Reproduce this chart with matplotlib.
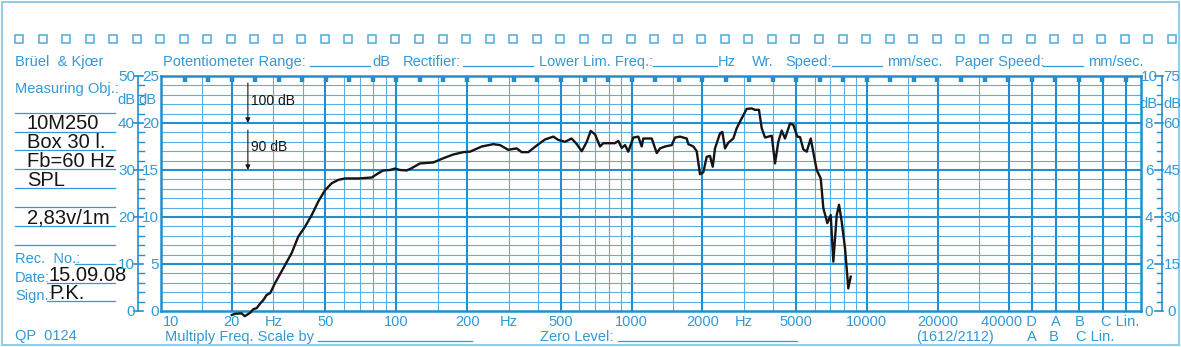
import matplotlib
matplotlib.use('Agg')
import matplotlib.pyplot as plt
import matplotlib.transforms as mtransforms
from matplotlib.patches import Rectangle

# ---------------- data ----------------
freq_hz = [20, 20.6, 22.0, 22.7, 23.9, 24.7, 25.5, 26.4, 27.2, 28.1,
           29.1, 30.5, 33.1, 35.9, 38.3, 40.9, 43.7, 46.6, 49.8, 53.2,
           56.7, 60.5, 69, 78.6, 83.8, 88.1, 94, 98.7, 103.7, 110.7,
           116.3, 126.1, 143.6, 158.4, 174.7, 192.7, 205.7, 230.7, 258.4, 276,
           299, 325, 341, 364, 395, 428.5, 465, 488, 521, 556,
           585, 614, 645, 670, 699, 734, 758, 850, 878, 908,
           938, 968, 1017, 1068, 1104, 1121, 1218, 1279, 1321, 1387,
           1481, 1529, 1606, 1715, 1742, 1830, 1891, 1953, 2017, 2085,
           2154, 2212, 2262, 2376, 2430, 2495, 2576, 2706, 2797, 2938,
           3084, 3239, 3345, 3478, 3573, 3690, 3940, 4070, 4203, 4345,
           4487, 4713, 4868, 5063, 5198, 5368, 5549, 5771, 6118, 6366,
           6530, 6790, 7019, 7201, 7443, 7613, 7816, 8075, 8337, 8535]
spl_db = [59.15, 59.4, 59.5, 58.9, 59.6, 60.4, 60.6, 61.6, 62.3, 63.4,
          63.8, 65.9, 69.1, 72.3, 75.8, 77.9, 80.4, 83.3, 85.7, 87.2,
          87.9, 88.2, 88.2, 88.4, 89.3, 89.9, 90.0, 90.3, 90.0, 89.9,
          90.4, 91.4, 91.6, 92.5, 93.3, 93.8, 93.9, 95.0, 95.5, 95.3,
          94.3, 94.6, 93.8, 93.8, 95.2, 96.5, 97.1, 96.4, 96.0, 96.7,
          95.5, 94.0, 96.0, 98.3, 97.6, 95.0, 95.7, 95.7, 96.2, 94.7,
          95.3, 93.9, 96.9, 97.1, 95.0, 96.7, 96.7, 93.6, 94.6, 95.0,
          95.3, 96.9, 97.1, 96.7, 95.5, 95.0, 94.0, 89.1, 89.5, 92.8,
          93.0, 90.7, 94.6, 97.8, 98.1, 94.6, 95.8, 96.7, 98.9, 101.0,
          103.0, 103.1, 102.8, 102.8, 98.9, 96.9, 97.3, 91.4, 96.0, 98.4,
          96.7, 99.9, 99.6, 97.1, 97.0, 94.4, 93.9, 96.7, 90.0, 88.2,
          81.9, 78.7, 80.4, 70.5, 80.4, 82.6, 79.0, 73.3, 64.8, 67.3]

xtick_freqs = [10, 20, 50, 100, 200, 500, 1000, 2000, 5000, 10000, 20000]
xtick_labels = ['10', '20', '50', '100', '200', '500', '1000', '2000', '5000', '10000', '20000']
hz_label_freqs = [30, 300, 3000]
db_major = [60, 70, 80, 90, 100, 110]
left_outer_labels = ['0', '10', '20', '30', '40', '50']
left_inner_labels = ['0', '5', '10', '15', '20', '25']
right_inner_labels = ['0', '2', '4', '6', '8', '10']
right_outer_labels = ['0', '15', '30', '45', '60', '75']
meas_lines = ['10M250', 'Box 30 l.', 'Fb=60 Hz', 'SPL', '', '2,83v/1m']

# ---------------- style ----------------
THICK = '#1f8fd3'
THIN = '#5aafe2'
TXT = '#3299d6'
PALE = '#92cdea'
INK = '#151515'
FONT = 'Liberation Sans'

W, H = 1181, 347
fig = plt.figure(figsize=(W / 100, H / 100), dpi=100)
fig.patch.set_facecolor('white')

ov = fig.add_axes([0, 0, 1, 1], zorder=0)
ov.set_xlim(0, W)
ov.set_ylim(H, 0)
ov.axis('off')

ax = fig.add_axes([161 / W, (H - 311) / H, 980 / W, 235 / H], zorder=2)
ax.set_facecolor('none')
ax.set_xscale('log')
F_RIGHT = 146200
ax.set_xlim(10, F_RIGHT)
ax.set_ylim(60, 110)
ax.set_xticks([])
ax.set_yticks([])
ax.minorticks_off()
for sp in ax.spines.values():
    sp.set_color(THICK)
    sp.set_linewidth(1.8)


def T(x, y, s, ha='left', color=TXT, size=10.5, tr=None, **kw):
    ov.text(x, y, s, ha=ha, va='baseline', color=color, fontsize=size,
            family=FONT, transform=tr if tr is not None else ov.transData, **kw)


# ---------------- outer frame and sprocket holes ----------------
ov.add_patch(Rectangle((1.5, 1.5), 1177.5, 343.5, fill=False, ec=PALE, lw=1.5))
for k in range(50):
    cx = 19 + 23.53 * k
    ov.add_patch(Rectangle((cx - 4, 35), 8, 8, fill=False, ec='#4fa9dc', lw=1.1))

# ---------------- header ----------------
T(15, 66, 'Brüel  & Kjœr')
T(163, 66, 'Potentiometer Range:')
ov.plot([310, 370], [66, 66], color=TXT, lw=0.9)
T(372, 66, 'dB')
T(403, 66, 'Rectifier:')
ov.plot([463, 533], [66, 66], color=TXT, lw=0.9)
T(539, 66, 'Lower Lim. Freq.:')
ov.plot([653, 717], [66, 66], color=TXT, lw=0.9)
T(718, 66, 'Hz')
T(752, 66, 'Wr.')
T(785, 66, 'Speed:')
ov.plot([832, 882], [66, 66], color=TXT, lw=0.9)
T(887, 66, 'mm/sec.')
T(955, 66, 'Paper Speed:')
ov.plot([1043, 1083], [66, 66], color=TXT, lw=0.9)
T(1088, 66, 'mm/sec.')

# ---------------- left info panel ----------------
T(15, 93, 'Measuring Obj.:')
panel_lines = [113.3, 131.7, 150, 169.3, 188.3, 206.7, 226, 245]
for yl in panel_lines:
    ov.plot([15, 115], [yl, yl], color=TXT, lw=0.9)
for i, s in enumerate(meas_lines):
    if s:
        T(27, panel_lines[i + 1] - 2.5, s, color=INK, size=14.5)
T(15, 263, 'Rec.  No.:')
ov.plot([75, 115], [263.5, 263.5], color=TXT, lw=0.9)
T(15, 282, 'Date:')
ov.plot([47, 115], [282.5, 282.5], color=TXT, lw=0.9)
T(49, 281, '15.09.08', color=INK, size=14.5)
T(15, 300, 'Sign.:')
ov.plot([47, 115], [300.5, 300.5], color=TXT, lw=0.9)
T(49, 299, 'P.K.', color=INK, size=14.5)
T(15, 340, 'QP  0124')

# ---------------- grid ----------------
grid_mult = [1, 1.5, 2, 3, 4, 5, 6, 7, 8, 9]
thick_f, thin_f = [], []
for d in [10, 100, 1000, 10000]:
    for m in grid_mult:
        f = d * m
        if f > 40000:
            break
        if f == 10:
            continue
        (thick_f if m in (1, 2, 5) or f == 40000 else thin_f).append(f)
col_f = [40000 * 10 ** (k / 10) for k in range(1, 6)]
thick_f += col_f

for v in range(62, 110, 2):
    if v % 10:
        ax.axhline(v, color=THIN, lw=0.8, zorder=1)
for v in db_major[1:-1]:
    ax.axhline(v, color=THICK, lw=1.5, zorder=2)
for f in thin_f:
    ax.axvline(f, color=THIN, lw=0.8, zorder=1)
for f in thick_f:
    ax.axvline(f, color=THICK, lw=1.5, zorder=2)

# top markers every 1/10 decade
mark_f = [10 * 10 ** (k / 10) for k in range(1, 42)]
ax.vlines(mark_f, 0.975, 1.0, transform=ax.get_xaxis_transform(),
          color=THICK, lw=3.2, zorder=3)

# ---------------- response curve ----------------
ax.plot(freq_hz, spl_db, color=INK, lw=1.7, zorder=5, clip_on=False,
        solid_joinstyle='round')

# level annotations
ax.annotate('', xy=(23.4, 100), xytext=(23.4, 108.5),
            arrowprops=dict(arrowstyle='-|>', color=INK, lw=0.8,
                            mutation_scale=7, shrinkA=0, shrinkB=0), zorder=6)
ax.annotate('', xy=(23.4, 90), xytext=(23.4, 98.5),
            arrowprops=dict(arrowstyle='-|>', color=INK, lw=0.8,
                            mutation_scale=7, shrinkA=0, shrinkB=0), zorder=6)
ax.text(24.1, 103.8, '100 dB', color=INK, fontsize=10, family=FONT,
        va='baseline', ha='left', zorder=6)
ax.text(24.1, 94.0, '90 dB', color=INK, fontsize=10, family=FONT,
        va='baseline', ha='left', zorder=6)

# ---------------- side scales ----------------
bt = mtransforms.blended_transform_factory(ov.transData, ax.transData)
ov.plot([138, 138], [60, 110], transform=bt, color=THICK, lw=1.2)
ov.plot([1162, 1162], [60, 110], transform=bt, color=THICK, lw=1.2)
for v in range(60, 111, 2):
    if v % 10:
        ov.plot([138, 144], [v, v], transform=bt, color=THICK, lw=1.0)
        ov.plot([1157, 1162], [v, v], transform=bt, color=THICK, lw=1.0)
    else:
        ov.plot([134, 143], [v, v], transform=bt, color=THICK, lw=1.2)
        ov.plot([1155, 1163], [v, v], transform=bt, color=THICK, lw=1.2)

off = mtransforms.ScaledTranslation(0, -5.0 / 100, fig.dpi_scale_trans)
for v, a, b, c, d in zip(db_major, left_outer_labels, left_inner_labels,
                         right_inner_labels, right_outer_labels):
    T(135, v, a, ha='right', size=11, tr=bt + off)
    T(159, v, b, ha='right', size=11, tr=bt + off)
    T(1149, v, c, ha='center', size=11, tr=bt + off)
    T(1172, v, d, ha='center', size=11, tr=bt + off)
T(117, 103.5, 'dB', size=10.5)
T(138, 103.5, 'dB', size=10.5)
T(1139, 108, 'dB', size=10.5)
T(1163, 108, 'dB', size=10.5)

# ---------------- bottom labels ----------------
bb = mtransforms.blended_transform_factory(ax.transData, ov.transData)
for f, s in zip(xtick_freqs, xtick_labels):
    T(f * (1.02 if f == 10 else 1.0), 326, s, ha='left' if f == 10 else 'center', tr=bb)
for f in hz_label_freqs:
    T(f, 326, 'Hz', ha='center', tr=bb)
T(40000, 326, '40000 D', ha='center', tr=bb)
T(col_f[1], 326, 'A', ha='center', tr=bb)
T(col_f[2], 326, 'B', ha='center', tr=bb)
T(col_f[3] * 0.985, 326, 'C Lin.', ha='left', tr=bb)
T(col_f[0], 341, 'A', ha='center', tr=bb)
T(col_f[1] * 0.985, 341, 'B', ha='center', tr=bb)
T(col_f[2] * 0.97, 341, 'C Lin.', ha='left', tr=bb)
T(916, 341, '(1612/2112)')
T(165, 341, 'Multiply Freq. Scale by')
ov.plot([318, 472], [340.5, 340.5], color=TXT, lw=0.9)
T(540, 341, 'Zero Level:')
ov.plot([618, 797], [340.5, 340.5], color=TXT, lw=0.9)

fig.savefig('out.png', dpi=100, facecolor='white')
